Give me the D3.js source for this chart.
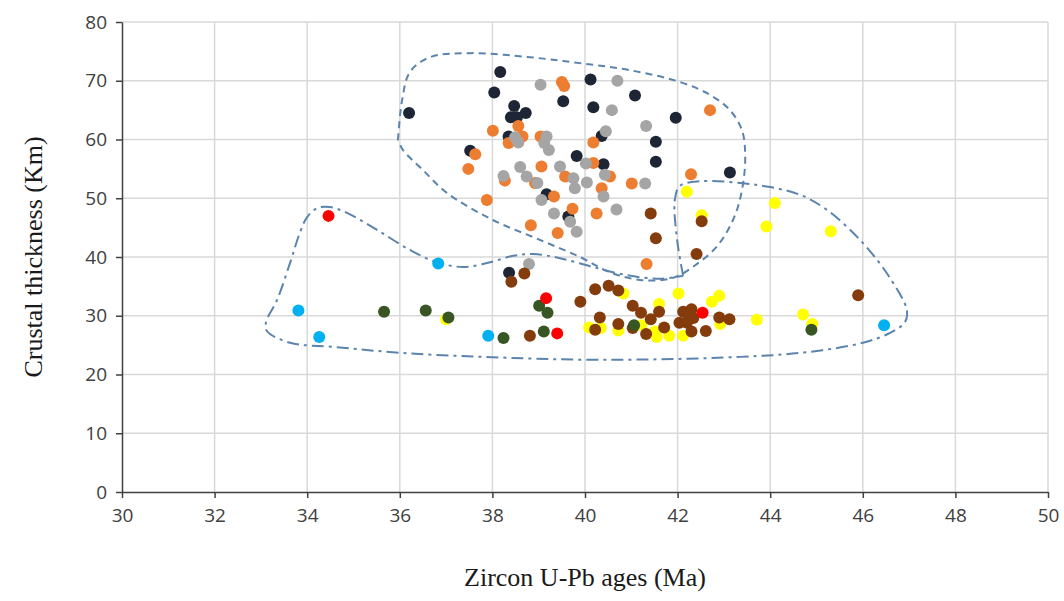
<!DOCTYPE html>
<html>
<head>
    <script src="https://d3js.org/d3.v7.min.js"></script>
    <style>
        body { margin: 0; background: #ffffff; }
    </style>
</head>
<body>
<svg id="chart" width="1064" height="601"></svg>
<script>
    // [age Ma, crustal thickness km] per group
    var blackPts = [[38.17,71.5],[38.04,68.0],[39.53,66.5],[36.2,64.5],[38.47,65.7],[38.72,64.5],[38.40,63.8],[38.53,63.8],
        [38.35,60.5],[37.52,58.1],[39.82,57.2],[40.12,70.2],[41.08,67.5],[40.18,65.5],[41.96,63.7],[40.36,60.6],
        [41.53,59.6],[40.40,55.8],[41.53,56.2],[43.13,54.4],[39.17,50.7],[39.64,46.9],[38.36,37.3]];
    var orangePts = [[39.5,69.8],[39.55,69.1],[38.56,62.3],[38.01,61.5],[38.65,60.5],[38.35,59.4],[39.04,60.5],[37.63,57.5],
        [37.48,55.0],[39.06,55.4],[42.70,65.0],[40.18,59.5],[40.18,56.0],[38.27,53.0],[38.92,52.6],[39.57,53.7],
        [37.88,49.7],[39.33,50.3],[39.73,48.2],[38.83,45.4],[39.41,44.1],[40.54,53.7],[40.36,51.7],[41.01,52.5],
        [42.29,54.1],[40.25,47.4],[41.33,38.8]];
    var grayPts = [[39.04,69.3],[40.70,70.0],[38.49,60.4],[38.56,59.5],[39.17,60.5],[39.12,59.4],[39.22,58.2],[38.6,55.3],
        [39.46,55.4],[40.58,65.0],[41.32,62.3],[40.45,61.4],[40.02,55.9],[38.24,53.8],[38.74,53.7],[38.97,52.6],
        [39.75,53.4],[39.78,51.7],[39.06,49.7],[39.33,47.4],[39.68,46.0],[39.82,44.3],[38.79,38.8],[40.04,52.7],
        [40.43,54.0],[40.40,50.3],[41.30,52.5],[40.68,48.1]];
    var yellowPts = [[37.0,29.4],[42.20,51.1],[42.52,47.1],[40.83,33.8],[42.02,33.8],[42.74,32.4],[42.90,33.4],[41.60,32.0],
        [40.09,28.0],[40.34,27.9],[40.72,27.5],[41.22,28.4],[41.51,27.3],[41.55,26.4],[41.82,26.6],[42.12,26.6],
        [42.92,28.6],[43.71,29.3],[44.10,49.2],[43.92,45.2],[45.31,44.4],[44.71,30.2],[44.91,28.6]];
    var brownPts = [[38.69,37.2],[38.41,35.8],[38.81,26.6],[41.42,47.4],[42.52,46.1],[41.53,43.2],[42.41,40.5],[39.90,32.4],
        [40.22,34.5],[40.51,35.1],[40.72,34.3],[41.03,31.7],[41.21,30.5],[41.60,30.7],[40.32,29.7],[40.22,27.6],
        [40.72,28.6],[41.03,27.9],[41.42,29.4],[41.32,26.9],[41.71,28.0],[42.04,28.8],[42.12,30.7],[42.30,31.1],
        [42.25,29.8],[42.34,29.6],[42.20,28.8],[42.30,27.3],[42.61,27.4],[42.90,29.7],[43.12,29.4],[45.90,33.5]];
    var greenPts = [[35.66,30.7],[36.56,30.9],[37.05,29.7],[38.24,26.2],[39.11,27.3],[39.01,31.7],[39.19,30.5],[41.06,28.4],[44.89,27.6]];
    var bluePts = [[36.83,38.9],[33.81,30.9],[34.26,26.4],[37.91,26.6],[46.46,28.4]];
    var redPts = [[34.46,47.0],[39.40,27.0],[39.16,33.0],[42.54,30.5]];

    var xTicks = [30,32,34,36,38,40,42,44,46,48,50];
    var yTicks = [0,10,20,30,40,50,60,70,80];

    // hand drawn outlines, in data units
    var upperOutline = [[35.96,59.9],[36.05,66.7],[36.22,71.5],[36.65,74.0],[37.52,74.7],[38.81,74.0],[39.89,73.0],[40.97,71.8],
        [42.05,69.8],[42.70,67.6],[43.13,65.0],[43.39,61.6],[43.46,57.4],[43.41,52.3],[43.24,47.1],[42.87,42.0],
        [42.38,38.6],[41.88,36.4],[41.19,36.1],[40.54,37.4],[39.89,40.0],[39.03,42.9],[38.01,46.3],[37.02,50.9],
        [36.50,54.8],[36.07,58.2],[35.96,59.9]];
    var lowerOutline = [[42.12,36.8],[41.99,42.9],[41.94,49.7],[42.05,52.1],[42.48,52.9],[43.35,52.6],[44.0,51.9],[44.64,50.6],
        [45.23,48.0],[46.00,42.4],[46.59,36.4],[46.95,31.0],[46.91,28.9],[46.59,27.1],[46.00,25.4],[44.79,23.8],
        [43.35,23.0],[40.32,22.5],[37.80,23.0],[36.00,23.7],[34.56,24.7],[33.63,25.4],[33.13,27.4],[33.11,28.9],
        [33.35,32.7],[33.63,39.0],[33.84,44.1],[34.00,46.8],[34.21,48.3],[34.49,48.5],[34.86,47.5],[35.51,44.6],
        [36.22,41.2],[36.80,39.1],[37.37,38.3],[37.95,39.1],[38.45,40.2],[38.88,40.5],[39.46,39.8],[40.17,38.3],
        [40.91,36.9],[41.62,36.3],[42.12,36.8]];

    var series = [
        {pts: blackPts, color: "#1e2636"},
        {pts: orangePts, color: "#ed7d31"},
        {pts: grayPts, color: "#a5a5a5"},
        {pts: yellowPts, color: "#ffff00"},
        {pts: brownPts, color: "#843c0c"},
        {pts: greenPts, color: "#375623"},
        {pts: bluePts, color: "#00b0f0"},
        {pts: redPts, color: "#ff0000"}
    ];

    var svg = d3.select("#chart");
    var plotLeft = 122, plotRight = 1048, plotTop = 22, plotBottom = 492;

    var x = d3.scaleLinear().domain([30, 50]).range([plotLeft, plotRight]);
    var y = d3.scaleLinear().domain([0, 80]).range([plotBottom, plotTop]);

    // grid
    svg.append("g").selectAll("line")
        .data(xTicks.slice(1))
        .enter().append("line")
        .attr("x1", d => x(d)).attr("x2", d => x(d))
        .attr("y1", plotTop).attr("y2", plotBottom)
        .style("stroke", "#d9d9d9").style("stroke-width", "1.5px");
    svg.append("g").selectAll("line")
        .data(yTicks.slice(1))
        .enter().append("line")
        .attr("x1", plotLeft).attr("x2", plotRight)
        .attr("y1", d => y(d)).attr("y2", d => y(d))
        .style("stroke", "#d9d9d9").style("stroke-width", "1.5px");

    // axes
    svg.append("g")
        .attr("transform", "translate(0," + plotBottom + ")")
        .call(d3.axisBottom(x).tickValues(xTicks).tickSize(6).tickPadding(11).tickSizeOuter(0));
    svg.append("g")
        .attr("transform", "translate(" + plotLeft + ",0)")
        .call(d3.axisLeft(y).tickValues(yTicks).tickSize(6).tickPadding(9).tickSizeOuter(0));

    svg.selectAll(".domain, .tick line")
        .style("stroke", "#404040")
        .style("stroke-width", "1.5px");
    svg.selectAll(".tick text")
        .style("font-family", "'Open Sans', sans-serif")
        .style("font-size", "19px")
        .style("fill", "#404040");

    // outlines
    svg.append("path")
        .datum(upperOutline)
        .attr("d", d3.line().x(d => x(d[0])).y(d => y(d[1])).curve(d3.curveCatmullRom))
        .style("fill", "none")
        .style("stroke", "#5b84ad")
        .style("stroke-width", "2px")
        .style("stroke-dasharray", "7,5");

    svg.append("path")
        .datum(lowerOutline)
        .attr("d", d3.line().x(d => x(d[0])).y(d => y(d[1])).curve(d3.curveCatmullRom))
        .style("fill", "none")
        .style("stroke", "#5b84ad")
        .style("stroke-width", "2px")
        .style("stroke-dasharray", "12,5,3,5");

    // points
    series.forEach(function (s) {
        svg.append("g").selectAll("circle")
            .data(s.pts)
            .enter().append("circle")
            .attr("cx", d => x(d[0]))
            .attr("cy", d => y(d[1]))
            .attr("r", 6)
            .style("fill", s.color);
    });

    // axis titles
    svg.append("text")
        .attr("transform", "translate(36," + ((plotTop + plotBottom) / 2) + ") rotate(-90)")
        .attr("text-anchor", "middle")
        .attr("dominant-baseline", "middle")
        .style("font-family", "'Liberation Serif', serif")
        .style("font-size", "26px")
        .style("fill", "#1a1a1a")
        .text("Crustal thickness (Km)");

    svg.append("text")
        .attr("x", 585)
        .attr("y", 586)
        .attr("text-anchor", "middle")
        .style("font-family", "'Liberation Serif', serif")
        .style("font-size", "26px")
        .style("fill", "#1a1a1a")
        .text("Zircon U-Pb ages (Ma)");
</script>
</body>
</html>
